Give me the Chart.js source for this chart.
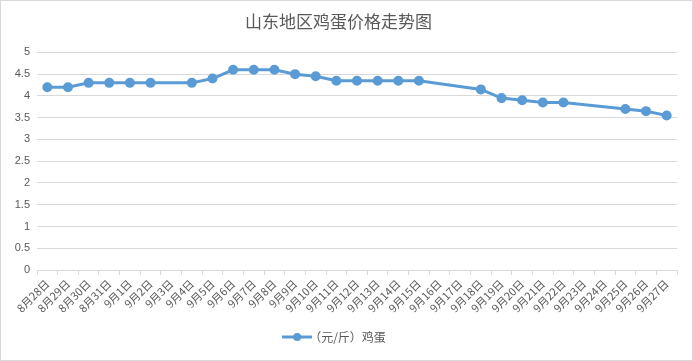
<!DOCTYPE html>
<html><head><meta charset="utf-8">
<script src="https://cdn.jsdelivr.net/npm/chart.js@4/dist/chart.umd.min.js"></script>
<style>html,body{margin:0;padding:0;background:#fff;}#wrap{width:693px;height:361px;position:relative;}</style>
</head><body><div id="wrap"><canvas id="c" width="693" height="361"></canvas></div>
<script>
const categories = ["8月28日","8月29日","8月30日","8月31日","9月1日","9月2日","9月3日","9月4日","9月5日","9月6日","9月7日","9月8日","9月9日","9月10日","9月11日","9月12日","9月13日","9月14日","9月15日","9月16日","9月17日","9月18日","9月19日","9月20日","9月21日","9月22日","9月23日","9月24日","9月25日","9月26日","9月27日"];
const eggPrice = [4.2,4.2,4.3,4.3,4.3,4.3,null,4.3,4.4,4.6,4.6,4.6,4.5,4.45,4.35,4.35,4.35,4.35,4.35,null,null,4.15,3.95,3.9,3.85,3.85,null,null,3.7,3.65,3.55];
const seriesName = "（元/斤）鸡蛋";
const titleText = "山东地区鸡蛋价格走势图";

const BLUE = "#5b9bd5", TXT = "#595959", GRID = "#d9d9d9";
const FONT = "'Liberation Sans','Noto Sans CJK SC',sans-serif";
const CJK = "'Noto Sans CJK SC',sans-serif";

const legendIcon = document.createElement('canvas');
legendIcon.width = 30; legendIcon.height = 10;
(function(){const g = legendIcon.getContext('2d');g.strokeStyle = BLUE; g.lineWidth = 3;g.beginPath(); g.moveTo(0,5); g.lineTo(30,5); g.stroke();g.fillStyle = BLUE; g.beginPath(); g.arc(15,5,4,0,Math.PI*2); g.fill();})();

const borderPlugin = {id:'border', afterDraw(chart){const ctx=chart.ctx;ctx.save();ctx.strokeStyle=GRID;ctx.lineWidth=1;ctx.strokeRect(0.5,0.5,chart.width-1,chart.height-1);ctx.restore();}};

new Chart(document.getElementById('c'), {
  type:'line',
  data:{labels:categories, datasets:[{label:seriesName, data:eggPrice, borderColor:BLUE, backgroundColor:BLUE, borderWidth:3, pointRadius:3.5, pointHoverRadius:3.5, pointBackgroundColor:BLUE, pointBorderColor:BLUE, spanGaps:true, tension:0}]},
  options:{
    responsive:false, animation:false, devicePixelRatio:1,
    layout:{padding:{left:0,right:16,top:0,bottom:8}},
    plugins:{
      title:{display:true,text:titleText,color:TXT,font:{family:CJK,size:17,weight:'normal'},padding:{top:11,bottom:21}},
      legend:{position:'bottom',labels:{color:TXT,font:{family:CJK,size:12},usePointStyle:true,padding:10,generateLabels(chart){return [{text:seriesName,pointStyle:legendIcon,fontColor:TXT,datasetIndex:0,lineWidth:0,strokeStyle:BLUE,fillStyle:BLUE}];}}},
      tooltip:{enabled:false}
    },
    scales:{
      x:{offset:true,grid:{offset:true,drawOnChartArea:false,color:GRID,tickLength:5,tickColor:GRID},border:{color:GRID},
         ticks:{color:TXT,font:{family:CJK,size:11},minRotation:45,maxRotation:45,autoSkip:false,padding:2},
         afterFit(s){s.height=51;}},
      y:{min:0,max:5,grid:{color:GRID,drawTicks:false},border:{display:false},
         ticks:{stepSize:0.5,color:TXT,font:{family:FONT,size:11},padding:7,callback:(v)=>String(v)},
         afterFit(s){s.width=37;}}
    }
  },
  plugins:[borderPlugin]
});
</script></body></html>
